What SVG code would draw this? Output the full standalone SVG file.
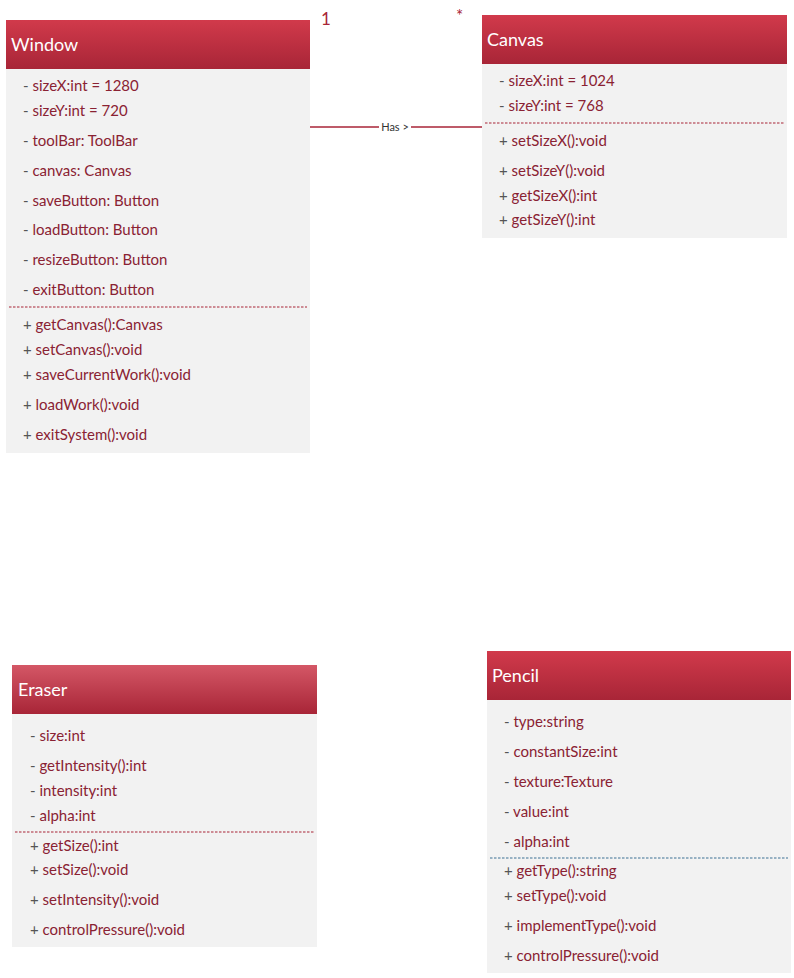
<svg xmlns="http://www.w3.org/2000/svg" width="794" height="978" viewBox="0 0 794 978">
<defs>
<linearGradient id="hdr" x1="0" y1="0" x2="0" y2="1">
<stop offset="0" stop-color="#d13a4b"/><stop offset="1" stop-color="#a82537"/>
</linearGradient>
<linearGradient id="hdr2" x1="0" y1="0" x2="0" y2="1">
<stop offset="0" stop-color="#d45766"/><stop offset="1" stop-color="#a82537"/>
</linearGradient>
</defs>
<style>
.body{fill:#f2f2f2}
.title{font-family:Lato,"Liberation Sans",sans-serif;font-size:18px;fill:#ffffff}
.m{font-family:Lato,"Liberation Sans",sans-serif;font-size:15px;fill:#8a2233}
.p{fill:#555555}
.sep{stroke:#a82537;stroke-width:1.2;stroke-dasharray:2.5 1.5}
.sepb{stroke:#3d7094;stroke-width:1.2;stroke-dasharray:2.5 1.5}
.mult{font-family:Lato,"Liberation Sans",sans-serif;font-size:17px;fill:#a82537}
.lbl{font-family:Lato,"Liberation Sans",sans-serif;font-size:11px;fill:#333333}
</style>
<rect width="794" height="978" fill="#ffffff"/>
<g id="connectors">
<line x1="310" y1="127" x2="482" y2="127" stroke="#a82537" stroke-width="1.5"/>
<rect x="379" y="120" width="32" height="13" fill="#ffffff"/>
<text class="lbl" x="395" y="131" text-anchor="middle">Has &gt;</text>
<text class="mult" x="321" y="25">1</text>
<text class="mult" x="456" y="22">*</text>
</g>
<g id="Window">
<rect x="6" y="20" width="304" height="49" fill="url(#hdr)"/>
<rect class="body" x="6" y="69" width="304" height="384"/>
<text class="title" x="11" y="51">Window</text>
<text class="m" x="23" y="91"><tspan class="p">- </tspan>sizeX:int = 1280</text>
<text class="m" x="23" y="116"><tspan class="p">- </tspan>sizeY:int = 720</text>
<text class="m" x="23" y="146"><tspan class="p">- </tspan>toolBar: ToolBar</text>
<text class="m" x="23" y="176"><tspan class="p">- </tspan>canvas: Canvas</text>
<text class="m" x="23" y="206"><tspan class="p">- </tspan>saveButton: Button</text>
<text class="m" x="23" y="235"><tspan class="p">- </tspan>loadButton: Button</text>
<text class="m" x="23" y="265"><tspan class="p">- </tspan>resizeButton: Button</text>
<text class="m" x="23" y="295"><tspan class="p">- </tspan>exitButton: Button</text>
<line class="sep" x1="9" y1="307" x2="307" y2="307"/>
<text class="m" x="23" y="330"><tspan class="p">+ </tspan>getCanvas():Canvas</text>
<text class="m" x="23" y="355"><tspan class="p">+ </tspan>setCanvas():void</text>
<text class="m" x="23" y="380"><tspan class="p">+ </tspan>saveCurrentWork():void</text>
<text class="m" x="23" y="410"><tspan class="p">+ </tspan>loadWork():void</text>
<text class="m" x="23" y="440"><tspan class="p">+ </tspan>exitSystem():void</text>
</g>
<g id="Canvas">
<rect x="482" y="15" width="305" height="49" fill="url(#hdr)"/>
<rect class="body" x="482" y="64" width="305" height="174"/>
<text class="title" x="487" y="46">Canvas</text>
<text class="m" x="499" y="86"><tspan class="p">- </tspan>sizeX:int = 1024</text>
<text class="m" x="499" y="111"><tspan class="p">- </tspan>sizeY:int = 768</text>
<line class="sep" x1="485" y1="123" x2="784" y2="123"/>
<text class="m" x="499" y="146"><tspan class="p">+ </tspan>setSizeX():void</text>
<text class="m" x="499" y="176"><tspan class="p">+ </tspan>setSizeY():void</text>
<text class="m" x="499" y="201"><tspan class="p">+ </tspan>getSizeX():int</text>
<text class="m" x="499" y="225"><tspan class="p">+ </tspan>getSizeY():int</text>
</g>
<g id="Eraser">
<rect x="12" y="665" width="305" height="49" fill="url(#hdr2)"/>
<rect class="body" x="12" y="714" width="305" height="233"/>
<text class="title" x="18" y="696">Eraser</text>
<text class="m" x="30" y="741"><tspan class="p">- </tspan>size:int</text>
<text class="m" x="30" y="771"><tspan class="p">- </tspan>getIntensity():int</text>
<text class="m" x="30" y="796"><tspan class="p">- </tspan>intensity:int</text>
<text class="m" x="30" y="821"><tspan class="p">- </tspan>alpha:int</text>
<line class="sep" x1="15" y1="832" x2="314" y2="832"/>
<text class="m" x="30" y="851"><tspan class="p">+ </tspan>getSize():int</text>
<text class="m" x="30" y="875"><tspan class="p">+ </tspan>setSize():void</text>
<text class="m" x="30" y="905"><tspan class="p">+ </tspan>setIntensity():void</text>
<text class="m" x="30" y="935"><tspan class="p">+ </tspan>controlPressure():void</text>
</g>
<g id="Pencil">
<rect x="487" y="651" width="304" height="49" fill="url(#hdr)"/>
<rect class="body" x="487" y="700" width="304" height="273"/>
<text class="title" x="492" y="682">Pencil</text>
<text class="m" x="504" y="727"><tspan class="p">- </tspan>type:string</text>
<text class="m" x="504" y="757"><tspan class="p">- </tspan>constantSize:int</text>
<text class="m" x="504" y="787"><tspan class="p">- </tspan>texture:Texture</text>
<text class="m" x="504" y="817"><tspan class="p">- </tspan>value:int</text>
<text class="m" x="504" y="847"><tspan class="p">- </tspan>alpha:int</text>
<line class="sepb" x1="490" y1="858" x2="788" y2="858"/>
<text class="m" x="504" y="876"><tspan class="p">+ </tspan>getType():string</text>
<text class="m" x="504" y="901"><tspan class="p">+ </tspan>setType():void</text>
<text class="m" x="504" y="931"><tspan class="p">+ </tspan>implementType():void</text>
<text class="m" x="504" y="961"><tspan class="p">+ </tspan>controlPressure():void</text>
</g>
</svg>
